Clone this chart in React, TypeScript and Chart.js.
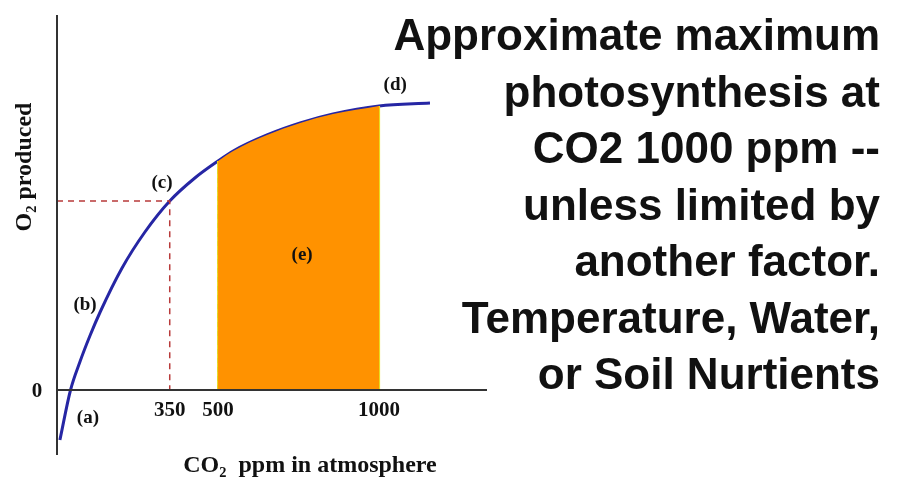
import React, { useEffect, useRef } from "react";
import { Chart, registerables } from "chart.js";

Chart.register(...registerables);

// Response curve: CO2 ppm vs O2 produced (arbitrary units)
const curveX = [9, 42, 71, 102, 134, 202, 273, 350, 428, 500, 547, 652, 755, 857, 1000, 1158];
const curveY = [-50, 0, 28, 54, 78, 122, 158, 189, 212, 229, 239, 255, 267, 276, 284, 287];

const xTickValues = [350, 500, 1000];
const xTickLabels = ["350", "500", "1000"];
const yTickValues = [0];
const yTickLabels = ["0"];

const markLabels = ["(a)", "(b)", "(c)", "(d)", "(e)"];
const markX = [96, 87, 326, 1050, 761];
const markY = [-28, 85, 207, 305, 135];

const fillFrom = 500;
const fillTo = 1000;
const refX = 350;

const textLines = [
  "Approximate maximum",
  "photosynthesis at",
  "CO2 1000 ppm --",
  "unless limited by",
  "another factor.",
  "Temperature, Water,",
  "or Soil Nurtients",
];

const X_MIN = 0;
const X_MAX = 1335;
const Y_MIN = -65;
const Y_MAX = 375;

export default function App() {
  const ref = useRef<HTMLCanvasElement | null>(null);

  useEffect(() => {
    const canvas = ref.current;
    if (!canvas) return;
    const curve = curveX.map((x, i) => ({ x, y: curveY[i] }));
    const fillPts = curve.filter((p) => p.x >= fillFrom && p.x <= fillTo);
    const yAt = (xv: number) => curveY[curveX.indexOf(xv)];
    const yRef = yAt(refX);

    const axesPlugin = {
      id: "axesPlugin",
      afterDatasetsDraw(chart: any) {
        const ctx = chart.ctx;
        const xs = chart.scales.x;
        const ys = chart.scales.y;
        const x0 = xs.getPixelForValue(0);
        const y0 = ys.getPixelForValue(0);
        ctx.save();
        ctx.strokeStyle = "#333333";
        ctx.lineWidth = 2;
        ctx.beginPath();
        ctx.moveTo(x0, ys.getPixelForValue(Y_MAX));
        ctx.lineTo(x0, ys.getPixelForValue(Y_MIN));
        ctx.moveTo(x0, y0);
        ctx.lineTo(xs.getPixelForValue(X_MAX), y0);
        ctx.stroke();

        ctx.fillStyle = "#111111";
        ctx.font = "bold 21px 'Liberation Serif', 'DejaVu Serif', serif";
        ctx.textAlign = "center";
        ctx.textBaseline = "middle";
        xTickValues.forEach((v, i) => {
          ctx.fillText(xTickLabels[i], xs.getPixelForValue(v), y0 + 21);
        });
        yTickValues.forEach((v, i) => {
          ctx.fillText(yTickLabels[i], x0 - 20, ys.getPixelForValue(v) + 2);
        });

        ctx.font = "bold 19px 'Liberation Serif', 'DejaVu Serif', serif";
        markLabels.forEach((t, i) => {
          ctx.fillText(t, xs.getPixelForValue(markX[i]), ys.getPixelForValue(markY[i]));
        });

        // axis titles
        ctx.font = "bold 24px 'Liberation Serif', 'DejaVu Serif', serif";
        ctx.fillText("CO\u2082  ppm in atmosphere", 310, 466);
        ctx.save();
        ctx.translate(25, 167);
        ctx.rotate(-Math.PI / 2);
        ctx.fillText("O\u2082 produced", 0, 0);
        ctx.restore();
        ctx.restore();
      },
    };

    const chart = new Chart(canvas, {
      type: "line",
      data: {
        datasets: [
          {
            data: fillPts,
            borderWidth: 0,
            borderColor: "rgba(0,0,0,0)",
            backgroundColor: "#FF9200",
            fill: "origin",
            pointRadius: 0,
            cubicInterpolationMode: "monotone",
          } as any,
          {
            data: [
              { x: fillFrom, y: 0 },
              { x: fillFrom, y: yAt(fillFrom) },
            ],
            borderColor: "#e8dc20",
            borderWidth: 2,
            pointRadius: 0,
            fill: false,
            tension: 0,
          },
          {
            data: [
              { x: fillTo, y: 0 },
              { x: fillTo, y: yAt(fillTo) },
            ],
            borderColor: "#e8dc20",
            borderWidth: 2,
            pointRadius: 0,
            fill: false,
            tension: 0,
          },
          {
            data: [
              { x: fillFrom, y: 0 },
              { x: fillFrom, y: yAt(fillFrom) },
            ],
            borderColor: "#3d5a10",
            borderWidth: 1.5,
            borderDash: [5, 4],
            pointRadius: 0,
            fill: false,
            tension: 0,
          },
          {
            data: [
              { x: fillTo, y: 0 },
              { x: fillTo, y: yAt(fillTo) },
            ],
            borderColor: "#3d5a10",
            borderWidth: 1.5,
            borderDash: [5, 4],
            pointRadius: 0,
            fill: false,
            tension: 0,
          },
          {
            data: [
              { x: 0, y: yRef },
              { x: refX, y: yRef },
              { x: refX, y: 0 },
            ],
            borderColor: "#b83a3a",
            borderWidth: 1.5,
            borderDash: [6, 5],
            pointRadius: 0,
            fill: false,
            tension: 0,
          },
          {
            data: curve,
            borderColor: "#2626a4",
            borderWidth: 3,
            pointRadius: 0,
            fill: false,
            cubicInterpolationMode: "monotone",
          } as any,
        ],
      },
      options: {
        responsive: false,
        maintainAspectRatio: false,
        animation: false,
        layout: { padding: { left: 57, top: 15, right: 417, bottom: 22 } },
        plugins: { legend: { display: false }, tooltip: { enabled: false } },
        scales: {
          x: { type: "linear", min: X_MIN, max: X_MAX, display: false },
          y: { type: "linear", min: Y_MIN, max: Y_MAX, display: false },
        },
      },
      plugins: [axesPlugin],
    });
    return () => chart.destroy();
  }, []);

  return (
    <div
      style={{
        position: "absolute",
        left: 0,
        top: 0,
        width: 904,
        height: 477,
        background: "#ffffff",
        overflow: "hidden",
      }}
    >
      <canvas ref={ref} width={904} height={477} style={{ position: "absolute", left: 0, top: 0 }} />
      <div
        style={{
          position: "absolute",
          right: 24,
          top: 7,
          textAlign: "right",
          fontFamily: "'Liberation Sans', Arial, sans-serif",
          fontWeight: "bold",
          fontSize: 44,
          lineHeight: "56.5px",
          color: "#111111",
          whiteSpace: "nowrap",
        }}
      >
        {textLines.map((t, i) => (
          <div key={i}>{t}</div>
        ))}
      </div>
    </div>
  );
}
